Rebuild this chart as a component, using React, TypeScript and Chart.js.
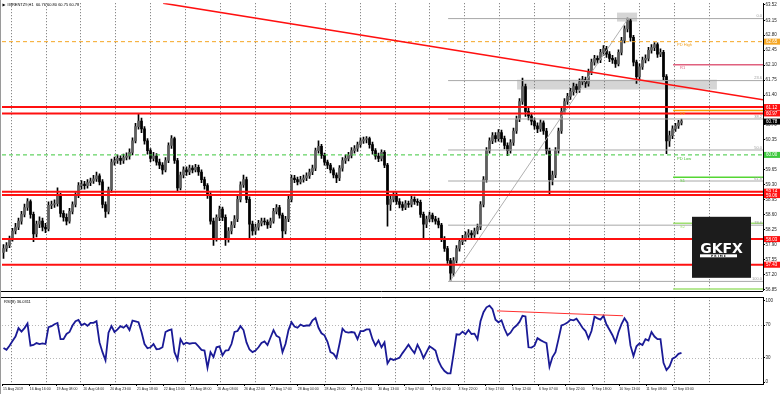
import React, { useEffect, useRef } from "react";
import { Chart, registerables } from "chart.js";

Chart.register(...registerables);

// ---------- axis text ----------
const chartTitle = "#BRENTZ9,H1  60.76 60.80 60.75 60.78";
const rsiTitle = "RSI(8) 36.0311";
const timeLabels = [
  "15 Aug 2019", "16 Aug 16:00", "19 Aug 08:00", "20 Aug 04:00", "20 Aug 23:00", "21 Aug 18:00",
  "22 Aug 13:00", "23 Aug 08:00", "26 Aug 03:00", "26 Aug 22:00", "27 Aug 17:00", "28 Aug 04:00",
  "28 Aug 23:00", "29 Aug 17:00", "30 Aug 13:00", "2 Sep 07:00", "3 Sep 02:00", "3 Sep 22:00",
  "4 Sep 17:00", "5 Sep 12:00", "6 Sep 07:00", "6 Sep 22:00", "9 Sep 18:00", "10 Sep 13:00",
  "11 Sep 08:00", "12 Sep 03:00",
];
const priceTicks = [63.52, 63.15, 62.8, 62.45, 62.1, 61.75, 61.4, 61.05, 60.7, 60.35, 60.0, 59.65, 59.3, 58.95, 58.6, 58.25, 57.9, 57.55, 57.2, 56.85];
const rsiTicks = [100, 70, 30, 0];
const rsiLevels = [70, 30];

// ---------- candles ----------
const firstOpen = 57.72;
const closes = [
  57.81, 57.88, 58.04, 58.22, 58.31, 58.45, 58.61, 58.77, 58.91, 58.61,
  58.15, 58.38, 58.45, 58.31, 58.27, 58.82, 58.84, 58.86, 59.05, 58.63,
  58.54, 58.45, 58.68, 58.84, 59.05, 59.28, 59.32, 59.28, 59.35, 59.39,
  59.44, 59.51, 59.37, 58.84, 58.68, 59.19, 59.83, 59.87, 59.92, 59.87,
  59.94, 59.97, 60.06, 60.33, 60.66, 60.79, 60.61, 60.33, 60.10, 59.92,
  59.97, 59.83, 59.76, 59.65, 59.87, 60.22, 60.38, 59.87, 59.23, 59.53,
  59.65, 59.60, 59.69, 59.65, 59.71, 59.60, 59.42, 59.28, 59.07, 58.45,
  58.04, 58.54, 58.73, 58.54, 58.04, 58.22, 58.36, 58.50, 58.96, 59.30,
  59.42, 58.96, 58.38, 58.22, 58.31, 58.40, 58.45, 58.43, 58.36, 58.45,
  58.68, 58.77, 58.59, 58.22, 58.50, 58.96, 59.46, 59.42, 59.37, 59.42,
  59.46, 59.51, 59.60, 59.69, 60.10, 60.20, 59.99, 59.83, 59.76, 59.65,
  59.53, 59.46, 59.69, 59.87, 59.92, 59.99, 60.10, 60.15, 60.24, 60.33,
  60.36, 60.38, 60.24, 60.10, 59.97, 59.92, 60.06, 59.76, 58.84, 58.96,
  59.07, 58.91, 58.84, 58.77, 58.86, 58.84, 58.96, 58.91, 58.89, 58.61,
  58.38, 58.50, 58.59, 58.50, 58.45, 58.36, 58.04, 57.81, 57.53, 57.23,
  57.53, 57.81, 57.97, 58.04, 58.13, 58.17, 58.13, 58.22, 58.31, 58.84,
  59.42, 60.10, 60.33, 60.45, 60.38, 60.52, 60.38, 60.22, 60.10, 60.29,
  60.56, 60.84, 61.25, 61.60, 61.02, 60.91, 60.79, 60.68, 60.61, 60.75,
  60.56, 60.10, 59.42, 59.53, 60.10, 60.56, 61.02, 61.25, 61.37, 61.48,
  61.60, 61.53, 61.71, 61.76, 61.67, 61.94, 62.17, 62.26, 62.22, 62.40,
  62.49, 62.36, 62.26, 62.22, 62.13, 62.40, 62.68, 62.95, 63.14, 62.75,
  62.17, 61.83, 62.06, 62.22, 62.26, 62.45, 62.51, 62.58, 62.36, 62.40,
  61.83, 60.33, 60.45, 60.61, 60.68, 60.75, 60.79,
];
const highs = [
  57.90, 57.95, 58.10, 58.28, 58.40, 58.52, 58.68, 58.85, 58.98, 58.95,
  58.66, 58.45, 58.55, 58.52, 58.40, 58.90, 58.92, 58.95, 59.23, 59.10,
  58.70, 58.62, 58.75, 58.90, 59.12, 59.35, 59.40, 59.38, 59.42, 59.46,
  59.52, 59.60, 59.56, 59.42, 58.90, 59.25, 59.90, 59.95, 60.00, 59.98,
  60.02, 60.05, 60.14, 60.40, 60.74, 60.95, 60.86, 60.66, 60.38, 60.15,
  60.06, 60.03, 59.90, 59.82, 59.94, 60.28, 60.45, 60.42, 59.92, 59.60,
  59.72, 59.72, 59.76, 59.75, 59.78, 59.76, 59.65, 59.48, 59.33, 59.12,
  58.52, 58.60, 58.80, 58.78, 58.60, 58.30, 58.44, 58.58, 59.03, 59.37,
  59.53, 59.48, 59.02, 58.45, 58.38, 58.47, 58.52, 58.52, 58.48, 58.52,
  58.75, 58.84, 58.82, 58.64, 58.56, 59.03, 59.53, 59.52, 59.48, 59.50,
  59.53, 59.58, 59.67, 59.76, 60.16, 60.33, 60.25, 60.04, 59.88, 59.80,
  59.70, 59.58, 59.75, 59.94, 60.00, 60.06, 60.17, 60.22, 60.30, 60.40,
  60.42, 60.43, 60.42, 60.30, 60.15, 60.04, 60.12, 60.10, 59.80, 59.04,
  59.15, 59.12, 58.98, 58.90, 58.93, 58.92, 59.03, 59.02, 58.97, 58.94,
  58.66, 58.57, 58.66, 58.64, 58.56, 58.52, 58.40, 58.09, 57.86, 57.58,
  57.60, 57.88, 58.04, 58.12, 58.20, 58.25, 58.23, 58.29, 58.38, 58.91,
  59.49, 60.17, 60.40, 60.52, 60.52, 60.59, 60.58, 60.44, 60.28, 60.36,
  60.63, 60.91, 61.32, 61.80, 61.66, 61.10, 60.98, 60.86, 60.75, 60.82,
  60.80, 60.62, 60.16, 59.62, 60.17, 60.63, 61.09, 61.32, 61.44, 61.56,
  61.68, 61.66, 61.78, 61.84, 61.82, 62.01, 62.24, 62.33, 62.32, 62.47,
  62.56, 62.54, 62.42, 62.33, 62.28, 62.46, 62.75, 63.02, 63.20, 63.18,
  62.80, 62.22, 62.13, 62.29, 62.34, 62.52, 62.58, 62.63, 62.62, 62.48,
  62.45, 61.88, 60.56, 60.68, 60.74, 60.81, 60.84,
];
const lows = [
  57.58, 57.74, 57.83, 57.98, 58.15, 58.25, 58.38, 58.55, 58.70, 58.52,
  57.97, 58.08, 58.30, 58.22, 58.18, 58.22, 58.74, 58.77, 58.80, 58.55,
  58.45, 58.36, 58.40, 58.62, 58.78, 59.00, 59.20, 59.20, 59.22, 59.28,
  59.33, 59.38, 59.30, 58.76, 58.54, 58.62, 59.12, 59.76, 59.80, 59.78,
  59.80, 59.88, 59.90, 60.00, 60.28, 60.60, 60.52, 60.25, 60.02, 59.84,
  59.86, 59.76, 59.68, 59.55, 59.60, 59.82, 60.15, 59.80, 59.14, 59.18,
  59.46, 59.52, 59.54, 59.58, 59.60, 59.52, 59.35, 59.20, 58.98, 58.38,
  57.88, 57.98, 58.46, 58.46, 57.88, 57.96, 58.15, 58.30, 58.44, 58.90,
  59.24, 58.88, 58.06, 58.12, 58.14, 58.24, 58.34, 58.36, 58.28, 58.30,
  58.40, 58.62, 58.52, 58.04, 58.15, 58.44, 58.90, 59.35, 59.30, 59.32,
  59.36, 59.40, 59.45, 59.54, 59.63, 60.04, 59.92, 59.76, 59.68, 59.58,
  59.46, 59.35, 59.40, 59.62, 59.80, 59.86, 59.93, 60.04, 60.08, 60.18,
  60.27, 60.28, 60.16, 60.02, 59.90, 59.84, 59.86, 59.70, 58.33, 58.70,
  58.90, 58.84, 58.76, 58.70, 58.72, 58.77, 58.78, 58.84, 58.82, 58.54,
  58.04, 58.30, 58.44, 58.43, 58.38, 58.29, 57.97, 57.74, 57.46, 57.05,
  57.16, 57.47, 57.75, 57.90, 57.98, 58.07, 58.06, 58.07, 58.15, 58.25,
  58.78, 59.36, 60.04, 60.26, 60.30, 60.32, 60.30, 60.14, 59.98, 60.04,
  60.22, 60.50, 60.78, 61.18, 60.90, 60.82, 60.70, 60.60, 60.52, 60.55,
  60.48, 60.02, 59.05, 59.30, 59.47, 60.04, 60.50, 60.96, 61.18, 61.30,
  61.40, 61.45, 61.46, 61.64, 61.58, 61.61, 61.88, 62.10, 62.14, 62.16,
  62.33, 62.28, 62.18, 62.14, 62.05, 62.08, 62.34, 62.62, 62.88, 62.66,
  62.08, 61.67, 61.76, 62.00, 62.15, 62.20, 62.38, 62.44, 62.28, 62.30,
  61.75, 60.03, 60.20, 60.38, 60.55, 60.62, 60.70,
];

// ---------- RSI(8) ----------
const rsiValues = [
  42, 39.6, 44.8, 50.4, 56, 66.4, 62, 66.4, 72, 44.8,
  45.6, 48, 46.8, 47.6, 46.8, 67.6, 68.8, 71.2, 72.8, 52.8,
  52.8, 59.2, 61.6, 69.6, 74.8, 76.4, 70, 72, 69.2, 72.8,
  72.8, 74.8, 48.8, 36.8, 26.8, 60.8, 68.8, 61.6, 64.8, 68.8,
  66.8, 70, 64, 75.6, 74.8, 73.6, 61.6, 46.8, 41.6, 42.8,
  46.8, 40.4, 40.8, 42.8, 61.6, 63.6, 64.8, 36.8, 27.6, 52.8,
  46.4, 48.4, 47.2, 48, 48, 44, 39.6, 38.8, 17.6, 36.8,
  30.8, 42.8, 44, 32.8, 38.8, 39.2, 46.8, 61.6, 62.8, 68.8,
  64, 48.8, 40, 36.8, 38.8, 42.8, 48, 50, 45.6, 54.8,
  64, 56.8, 54.8, 36.8, 46.8, 64, 73.6, 68.4, 66.8, 70.8,
  68.8, 69.6, 69.6, 76, 78.8, 66.8, 60, 57.6, 49.6, 36.8,
  34.8, 29.6, 46.8, 65.6, 61.6, 60.8, 61.6, 60.8, 52.8, 62.8,
  62.8, 64.8, 64.8, 52.8, 44.8, 51.2, 42.8, 48.8, 22.8, 28.8,
  27.2, 28.4, 30, 35.6, 40.8, 46, 40.4, 35.6, 46, 38.8,
  29.6, 36.8, 44, 41.6, 38.8, 26, 18.4, 13.6, 10.8, 10.8,
  34, 58.8, 58.4, 62, 58.8, 64, 59.2, 59.6, 52.8, 74.8,
  86, 92, 94, 89.6, 76.8, 73.6, 76, 65.6, 57.6, 60.8,
  66.4, 69.6, 74, 81.6, 80.8, 42.8, 42.4, 44.8, 54, 51.6,
  49.6, 48, 18.8, 30.8, 36.8, 52.8, 69.6, 71.2, 73.2, 76.8,
  76, 78, 72.8, 66.8, 62.8, 53.6, 62.8, 80.4, 78.4, 76.8,
  81.6, 70.8, 64.4, 57.6, 48.8, 61.6, 71.2, 78.4, 72.8, 44.8,
  32, 44, 47.6, 45.6, 52.8, 51.2, 61.6, 56, 52.8, 52.8,
  23.6, 14.8, 19.2, 28.8, 30.8, 34.8, 36,
];

// ---------- drawn objects (price / bar-index space) ----------
const redLevels = [61.12, 60.97, 59.14, 59.06, 58.03, 57.43];
const prevDayHigh = 62.65;
const prevDayLow = 60.0;
const lastPrice = 60.78;
const trendX = [53.2, 253.17];
const trendY = [63.55, 61.29];
const fibLowX = 148.8;
const fibHighX = 208.2;
const fibStartX = 148.2;
const fibLow = 57.04;
const fibHigh = 63.19;
const fibRatios = [0, 23.6, 38.2, 50, 61.8, 78.6, 100];
const zoneX0 = [171.2, 204.5];
const zoneX1 = [237.8, 211.2];
const zoneTop = [61.76, 63.33];
const zoneBottom = [61.53, 63.12];
const pivotStartX = 223.2;
const pivotNames = ["R1", "PP", "S1", "S2", "S3"];
const pivotValues = [62.11, 61.04, 59.48, 58.4, 56.86];
const pivotColors = ["#e0607e", "#ff9900", "#55d633", "#9ee070", "#9ee070"];
const rsiLineX = [164.5, 206.5];
const rsiLineY = [87.6, 81.6];

// ---------- layout constants ----------
const X_MIN = -0.5;
const X_MAX = 253.17;
const PRICE_MIN = 56.82;
const PRICE_MAX = 63.55;
const LABEL_STEP = 8.933;
const LABEL_OFFSET = -0.17;
const GRID_START = 2.4;
const GRID_STEP = 11.633;
const GRID_COUNT = 21;
const FONT = "'DejaVu Sans', sans-serif";
const NARROW = "'Liberation Sans', Arial, sans-serif";

function drawVGrid(ctx: any, chart: any) {
  const a = chart.chartArea;
  const x = chart.scales.x;
  ctx.save();
  ctx.strokeStyle = "#6e6e6e";
  ctx.lineWidth = 1;
  ctx.setLineDash([1, 2]);
  for (let k = 0; k < GRID_COUNT; k++) {
    const px = Math.round(x.getPixelForValue(GRID_START + k * GRID_STEP)) + 0.5;
    ctx.beginPath();
    ctx.moveTo(px, a.top);
    ctx.lineTo(px, a.bottom);
    ctx.stroke();
  }
  ctx.restore();
}

function hLine(value: number, color: string, width: number, x0 = X_MIN, dash: number[] = [], order = 1) {
  return {
    type: "line",
    data: [
      { x: x0, y: value },
      { x: X_MAX, y: value },
    ],
    borderColor: color,
    borderWidth: width,
    borderDash: dash,
    pointRadius: 0,
    order,
  };
}

const pricePlugin = {
  id: "priceDecor",
  beforeDatasetsDraw(chart: any) {
    const { ctx, scales } = chart;
    const x = scales.x;
    const y = scales.y;
    ctx.save();
    ctx.fillStyle = "#d5d5d5";
    zoneX0.forEach((x0, i) => {
      const px0 = x.getPixelForValue(x0);
      const px1 = x.getPixelForValue(zoneX1[i]);
      const py0 = y.getPixelForValue(zoneTop[i]);
      const py1 = y.getPixelForValue(zoneBottom[i]);
      ctx.fillRect(px0, py0, px1 - px0, py1 - py0);
    });
    ctx.restore();
    drawVGrid(ctx, chart);
  },
  afterDatasetsDraw(chart: any) {
    const { ctx, chartArea: a, scales } = chart;
    const x = scales.x;
    const y = scales.y;
    ctx.save();
    ctx.font = `4px ${NARROW}`;
    ctx.fillStyle = "#9a9a9a";
    ctx.textAlign = "right";
    ctx.textBaseline = "bottom";
    fibRatios.forEach((r) => {
      const v = fibHigh - (r / 100) * (fibHigh - fibLow);
      ctx.fillText(r.toFixed(1), a.right - 1, y.getPixelForValue(v) - 0.5);
    });
    ctx.textAlign = "left";
    ctx.textBaseline = "top";
    const lx = x.getPixelForValue(pivotStartX) + 4;
    ctx.fillStyle = "#f0a020";
    ctx.fillText("PD High", lx, y.getPixelForValue(prevDayHigh) + 1.5);
    ctx.fillStyle = "#44c030";
    ctx.fillText("PD Low", lx, y.getPixelForValue(prevDayLow) + 1.5);
    pivotNames.forEach((n, i) => {
      if (n === "S3") return;
      ctx.fillStyle = pivotColors[i];
      ctx.fillText(n, lx + 3, y.getPixelForValue(pivotValues[i]) + 1.5);
    });
    ctx.fillStyle = "#000";
    ctx.textBaseline = "middle";
    ctx.fillText(chartTitle, 7, 5);
    ctx.beginPath();
    ctx.moveTo(2.5, 3.5);
    ctx.lineTo(5.5, 5);
    ctx.lineTo(2.5, 6.5);
    ctx.closePath();
    ctx.fill();
    // logo
    const bx = a.right - 71;
    const by = a.bottom - 74;
    ctx.fillStyle = "#1c1c1c";
    ctx.fillRect(bx, by, 59, 61);
    ctx.fillStyle = "#ffffff";
    ctx.font = `bold 14px ${FONT}`;
    ctx.textAlign = "center";
    ctx.textBaseline = "alphabetic";
    ctx.fillText("GKFX", bx + 29.5, by + 36);
    ctx.fillRect(bx + 8, by + 37.5, 37, 3);
    ctx.fillStyle = "#1c1c1c";
    ctx.font = `bold 3px ${FONT}`;
    ctx.textBaseline = "middle";
    ctx.fillText("P R I M E", bx + 26.5, by + 39);
    ctx.restore();
  },
  afterDraw(chart: any) {
    const { ctx, chartArea: a, scales } = chart;
    const y = scales.y;
    ctx.save();
    ctx.strokeStyle = "#000";
    ctx.lineWidth = 1;
    ctx.beginPath();
    ctx.moveTo(0, Math.round(a.bottom) + 0.5);
    ctx.lineTo(a.right, Math.round(a.bottom) + 0.5);
    ctx.stroke();
    const tags: [number, string][] = [
      [prevDayHigh, "#f5a623"],
      ...redLevels.map((v) => [v, "#ff1010"] as [number, string]),
      [lastPrice, "#000000"],
      [prevDayLow, "#3cc83c"],
    ];
    ctx.font = `4.5px ${NARROW}`;
    ctx.textAlign = "left";
    ctx.textBaseline = "middle";
    tags.forEach(([v, c]) => {
      const py = y.getPixelForValue(v);
      ctx.fillStyle = c;
      ctx.fillRect(a.right + 1, py - 3, 16, 6);
      ctx.fillStyle = "#ffffff";
      ctx.fillText(v.toFixed(2), a.right + 3, py + 0.3);
    });
    ctx.restore();
  },
};

const rsiPlugin = {
  id: "rsiDecor",
  beforeDatasetsDraw(chart: any) {
    const { ctx, chartArea: a, scales } = chart;
    drawVGrid(ctx, chart);
    ctx.save();
    ctx.strokeStyle = "#b8b8b8";
    ctx.setLineDash([1, 2]);
    rsiLevels.forEach((l) => {
      const py = Math.round(scales.y.getPixelForValue(l)) + 0.5;
      ctx.beginPath();
      ctx.moveTo(a.left, py);
      ctx.lineTo(a.right, py);
      ctx.stroke();
    });
    ctx.restore();
  },
  afterDraw(chart: any) {
    const { ctx, chartArea: a } = chart;
    ctx.save();
    ctx.strokeStyle = "#000";
    ctx.beginPath();
    ctx.moveTo(0, Math.round(a.top) + 0.5);
    ctx.lineTo(a.right, Math.round(a.top) + 0.5);
    ctx.stroke();
    ctx.font = `4px ${NARROW}`;
    ctx.fillStyle = "#000";
    ctx.textBaseline = "middle";
    ctx.fillText(rsiTitle, 4, a.top + 5);
    ctx.restore();
  },
};

function priceConfig(): any {
  const idx = closes.map((_, i) => i);
  const opens = closes.map((c, i) => (i === 0 ? firstOpen : closes[i - 1]));
  const wickData = idx.map((i) => ({ x: i, y: [lows[i], highs[i]] }));
  const bodyData = idx.map((i) => ({ x: i, y: [Math.min(opens[i], closes[i]), Math.max(opens[i], closes[i])] }));
  const bodyColors = idx.map((i) => (closes[i] >= opens[i] ? "#5e5e5e" : "#000000"));
  const datasets: any[] = [
    { type: "bar", data: wickData, backgroundColor: "#000", barThickness: 1, grouped: false, order: 20 },
    { type: "bar", data: bodyData, backgroundColor: bodyColors, barThickness: 2, grouped: false, minBarLength: 1, order: 19 },
    {
      type: "line",
      data: [
        { x: fibLowX, y: fibLow },
        { x: fibHighX, y: fibHigh },
      ],
      borderColor: "#b0b0b0",
      borderWidth: 1,
      pointRadius: 0,
      order: 15,
    },
    ...fibRatios.map((r) => hLine(fibHigh - (r / 100) * (fibHigh - fibLow), "#a8a8a8", 1, fibStartX, [], 14)),
    ...pivotValues.map((v, i) => hLine(v, pivotColors[i], 1.5, pivotStartX, [], 6)),
    hLine(prevDayHigh, "#f5a623", 1, X_MIN, [4, 3], 5),
    hLine(prevDayLow, "#3cc83c", 1, X_MIN, [4, 3], 5),
    ...redLevels.map((v) => hLine(v, "#ff1010", 2, X_MIN, [], 2)),
    {
      type: "line",
      data: [
        { x: trendX[0], y: trendY[0] },
        { x: trendX[1], y: trendY[1] },
      ],
      borderColor: "#ff1010",
      borderWidth: 1.5,
      pointRadius: 0,
      order: 1,
    },
  ];
  return {
    type: "bar",
    data: { datasets },
    plugins: [pricePlugin],
    options: {
      animation: false,
      responsive: false,
      maintainAspectRatio: false,
      events: [],
      layout: { padding: { left: 2, top: 0, right: 0, bottom: 1 } },
      plugins: { legend: { display: false }, tooltip: { enabled: false } },
      scales: {
        x: { type: "linear", min: X_MIN, max: X_MAX, display: false, offset: false },
        y: {
          position: "right",
          min: PRICE_MIN,
          max: PRICE_MAX,
          afterBuildTicks: (s: any) => {
            s.ticks = priceTicks.map((v) => ({ value: v }));
          },
          afterFit: (s: any) => {
            s.width = 17;
          },
          grid: { display: true, drawOnChartArea: false, drawTicks: true, tickLength: 2, color: "#000" },
          border: { display: true, color: "#000", width: 1 },
          ticks: {
            autoSkip: false,
            padding: 0.5,
            color: "#222",
            font: { size: 4.5, family: NARROW },
            callback: (v: any) => Number(v).toFixed(2),
          },
        },
      },
    },
  };
}

function rsiConfig(): any {
  const rsiData = rsiValues.map((v, i) => ({ x: i, y: v }));
  return {
    type: "line",
    data: {
      datasets: [
        { data: rsiData, borderColor: "#1a1a96", borderWidth: 1.8, pointRadius: 0, tension: 0, order: 2 },
        {
          data: [
            { x: rsiLineX[0], y: rsiLineY[0] },
            { x: rsiLineX[1], y: rsiLineY[1] },
          ],
          borderColor: "#ff3030",
          borderWidth: 1,
          pointRadius: 0,
          order: 1,
        },
      ],
    },
    plugins: [rsiPlugin],
    options: {
      animation: false,
      responsive: false,
      maintainAspectRatio: false,
      events: [],
      layout: { padding: { left: 2, top: 1, right: 0, bottom: 0 } },
      plugins: { legend: { display: false }, tooltip: { enabled: false } },
      scales: {
        x: {
          type: "linear",
          min: X_MIN,
          max: X_MAX,
          offset: false,
          afterBuildTicks: (s: any) => {
            s.ticks = timeLabels.map((_, k) => ({ value: k * LABEL_STEP + LABEL_OFFSET }));
          },
          afterFit: (s: any) => {
            s.height = 10;
          },
          grid: { display: true, drawOnChartArea: false, drawTicks: true, tickLength: 2, color: "#000" },
          border: { display: true, color: "#000", width: 1 },
          ticks: {
            autoSkip: false,
            maxRotation: 0,
            minRotation: 0,
            align: "start",
            padding: 0.5,
            color: "#222",
            font: { size: 3.5, family: NARROW },
            callback: (_v: any, i: number) => timeLabels[i],
          },
        },
        y: {
          position: "right",
          min: -2.4,
          max: 104.44,
          afterBuildTicks: (s: any) => {
            s.ticks = rsiTicks.map((v) => ({ value: v }));
          },
          afterFit: (s: any) => {
            s.width = 17;
          },
          grid: { display: true, drawOnChartArea: false, drawTicks: true, tickLength: 2, color: "#000" },
          border: { display: true, color: "#000", width: 1 },
          ticks: {
            autoSkip: false,
            padding: 0.5,
            color: "#222",
            font: { size: 4.5, family: NARROW },
            callback: (v: any) => String(v),
          },
        },
      },
    },
  };
}

export default function App() {
  const priceRef = useRef<HTMLCanvasElement>(null);
  const rsiRef = useRef<HTMLCanvasElement>(null);
  useEffect(() => {
    const pc = new Chart(priceRef.current as any, priceConfig());
    const rc = new Chart(rsiRef.current as any, rsiConfig());
    return () => {
      pc.destroy();
      rc.destroy();
    };
  }, []);
  return (
    <div style={{ position: "fixed", left: 0, top: 0, width: 780, height: 394, background: "#fff", overflow: "hidden" }}>
      <canvas ref={priceRef} width={780} height={294} style={{ position: "absolute", left: 0, top: 0 }} />
      <canvas ref={rsiRef} width={780} height={100} style={{ position: "absolute", left: 0, top: 294 }} />
      <div style={{ position: "absolute", left: 0, top: 0, width: 1, height: 394, background: "#9a9a9a" }} />
    </div>
  );
}
